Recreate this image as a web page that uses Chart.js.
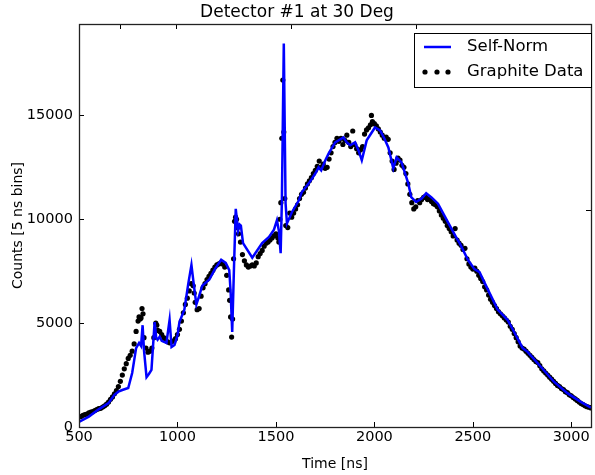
<!DOCTYPE html>
<html>
<head>
<meta charset="utf-8">
<script src="https://cdn.jsdelivr.net/npm/chart.js@4/dist/chart.umd.min.js"></script>
<style>
  html, body { margin: 0; padding: 0; background: #fff; }
  #wrap { width: 595px; height: 475px; }
</style>
</head>
<body>
<div id="wrap"><canvas id="chart" width="595" height="475"></canvas></div>
<script>
// Self-Norm curve (time in ns, counts per 5 ns bin)
const selfNormT = [500, 550, 600, 650, 680, 700, 720, 750, 770, 790, 805, 815, 823, 830, 843, 855, 868, 884, 892, 899,
  910, 920, 944, 960, 970, 985, 1000, 1010, 1035, 1055, 1071, 1085, 1096, 1110, 1126, 1162, 1190, 1222, 1245, 1263,
  1270, 1278, 1288, 1296, 1308, 1316, 1322, 1333, 1380, 1430, 1465, 1490, 1505, 1515, 1524, 1530, 1540, 1549, 1556, 1581,
  1616, 1631, 1667, 1700, 1717, 1730, 1751, 1768, 1801, 1843, 1860, 1877, 1902, 1920, 1936, 1961, 2003, 2029, 2050, 2071,
  2096, 2113, 2138, 2172, 2187, 2212, 2240, 2263, 2290, 2323, 2374, 2414, 2433, 2475, 2508, 2534, 2559, 2626, 2677, 2711,
  2753, 2778, 2845, 2912, 2980, 3046, 3100];
const selfNormC = [250, 500, 850, 1150, 1550, 1700, 1780, 1880, 2600, 3800, 4050, 3900, 4900, 3700, 2400, 2550, 2750, 5050, 4300, 4200,
  4350, 4150, 4050, 5150, 3850, 3950, 4400, 5050, 5650, 6900, 7800, 6700, 5900, 6300, 6800, 7100, 7600, 8050, 7900, 7550,
  6500, 4570, 8000, 10500, 9450, 9750, 9700, 8850, 8150, 8850, 9150, 9500, 9950, 9450, 8370, 10770, 18460, 10770, 9800, 10340,
  10900, 11300, 11730, 12200, 12500, 12350, 12840, 13170, 13700, 13940, 13700, 13560, 13700, 13300, 12840, 13800, 14420, 14280, 13900, 13460,
  12450, 12980, 12740, 11730, 11070, 10830, 11000, 11250, 11050, 10750, 9850, 9150, 8850, 8050, 7600, 7450, 6950, 5650, 5150, 4550,
  3800, 3620, 2900, 2180, 1630, 1220, 930];

// Graphite data points
const graphiteT = [500, 510, 520, 530, 540, 550, 560, 570, 580, 590, 600, 610, 620, 630, 640, 650, 660, 670, 680, 690,
  700, 710, 720, 730, 740, 750, 760, 770, 780, 790, 800, 805, 810, 815, 820, 825, 830, 840, 850, 860,
  870, 880, 890, 895, 900, 910, 920, 930, 940, 950, 960, 970, 980, 990, 1000, 1010, 1020, 1030, 1040, 1050,
  1060, 1070, 1080, 1085, 1090, 1100, 1110, 1120, 1130, 1140, 1150, 1160, 1170, 1180, 1190, 1200, 1210, 1220, 1230, 1240,
  1250, 1260, 1265, 1270, 1275, 1280, 1285, 1290, 1295, 1300, 1305, 1310, 1320, 1330, 1340, 1350, 1360, 1370, 1380, 1390,
  1400, 1410, 1420, 1430, 1440, 1450, 1460, 1470, 1480, 1490, 1500, 1510, 1515, 1520, 1525, 1530, 1535, 1540, 1545, 1550,
  1560, 1570, 1580, 1590, 1600, 1610, 1620, 1630, 1640, 1650, 1660, 1670, 1680, 1690, 1700, 1710, 1720, 1730, 1740, 1750,
  1760, 1770, 1780, 1790, 1800, 1810, 1820, 1830, 1840, 1850, 1860, 1870, 1880, 1890, 1900, 1910, 1920, 1930, 1940, 1950,
  1960, 1970, 1980, 1985, 1990, 2000, 2010, 2020, 2030, 2040, 2050, 2060, 2070, 2080, 2090, 2100, 2110, 2120, 2130, 2140,
  2150, 2160, 2170, 2180, 2190, 2200, 2210, 2220, 2230, 2240, 2250, 2260, 2270, 2280, 2290, 2300, 2310, 2320, 2330, 2340,
  2350, 2360, 2370, 2380, 2390, 2400, 2410, 2420, 2430, 2440, 2450, 2460, 2470, 2480, 2490, 2500, 2510, 2520, 2530, 2540,
  2550, 2560, 2570, 2580, 2590, 2600, 2610, 2620, 2630, 2640, 2650, 2660, 2670, 2680, 2690, 2700, 2710, 2720, 2730, 2740,
  2750, 2760, 2770, 2780, 2790, 2800, 2810, 2820, 2830, 2840, 2850, 2860, 2870, 2880, 2890, 2900, 2910, 2920, 2930, 2940,
  2950, 2960, 2970, 2980, 2990, 3000, 3010, 3020, 3030, 3040, 3050, 3060, 3070, 3080, 3090, 3100];
const graphiteC = [480, 500, 560, 600, 620, 680, 720, 740, 790, 840, 880, 900, 960, 1020, 1100, 1200, 1330, 1450, 1600, 1750,
  1950, 2200, 2500, 2800, 3050, 3300, 3450, 3650, 4000, 4600, 5100, 5300, 5200, 5250, 5700, 5450, 4300, 3800, 3600, 3650,
  3800, 4300, 5000, 4900, 4650, 4600, 4450, 4300, 4200, 4100, 4050, 4100, 4150, 4250, 4450, 4700, 5100, 5500, 5900, 6200,
  6550, 6900, 6800, 6450, 6000, 5650, 5700, 6300, 6700, 6900, 7100, 7250, 7400, 7550, 7700, 7800, 7850, 7900, 7850, 7700,
  7300, 6600, 6100, 5300, 4330, 5200, 8100, 9900, 10100, 10000, 9600, 9300, 8900, 8300, 8000, 7800, 7700, 7750, 7800, 7750,
  7900, 8200, 8350, 8500, 8700, 8850, 8900, 9000, 9100, 9200, 9300, 9100, 8900, 10000, 10800, 13900, 16700, 14200, 11000, 9700,
  9600, 10300, 10100, 10300, 10500, 10700, 11000, 11200, 11300, 11500, 11700, 11850, 12000, 12200, 12350, 12550, 12800, 12500, 12650, 12450,
  12500, 12900, 13200, 13500, 13700, 13900, 13750, 13900, 13600, 13800, 14050, 13700, 13500, 14250, 13600, 13400, 13200, 13350, 13500, 14100,
  14300, 14400, 14550, 15000, 14700, 14600, 14500, 14350, 14200, 14050, 13900, 13950, 13850, 13200, 12800, 12400, 12700, 12950, 12850, 12600,
  12500, 12200, 11700, 11200, 10800, 10500, 10600, 10900, 10800, 10950, 11050, 11100, 10950, 11000, 10850, 10750, 10700, 10600, 10400, 10200,
  10050, 9900, 9700, 9550, 9400, 9200, 9550, 9000, 8850, 8750, 8550, 8600, 8100, 7850, 7700, 7600, 7650, 7500, 7300, 7150,
  7000, 6750, 6600, 6350, 6150, 6000, 5850, 5700, 5550, 5450, 5350, 5250, 5150, 5050, 4850, 4700, 4500, 4300, 4100, 3900,
  3800, 3750, 3650, 3550, 3450, 3350, 3250, 3150, 3100, 2950, 2800, 2700, 2600, 2500, 2400, 2300, 2200, 2100, 2000, 1950,
  1850, 1800, 1700, 1650, 1550, 1500, 1420, 1350, 1280, 1200, 1130, 1080, 1020, 980, 950, 920];

const xTicks = [500, 1000, 1500, 2000, 2500, 3000];
const yTicks = [0, 5000, 10000, 15000];
// unlabelled ticks of the twin axes (top and right)
const topTicks = [707, 995, 1576, 2212];
const rightTicks = [16440, 10430];

const FONT = "'DejaVu Sans', 'Liberation Sans', sans-serif";

// inward tick marks and the full box, like matplotlib
const framePlugin = {
  id: 'frame',
  afterDatasetsDraw(chart) {
    const { ctx, chartArea: a, scales: { x, y } } = chart;
    const len = 5;
    ctx.save();
    ctx.strokeStyle = '#000';
    ctx.lineWidth = 1;
    ctx.beginPath();
    xTicks.forEach(v => {
      const px = Math.round(x.getPixelForValue(v)) + 0.5;
      ctx.moveTo(px, a.bottom); ctx.lineTo(px, a.bottom - len);
    });
    topTicks.forEach(v => {
      const px = Math.round(x.getPixelForValue(v)) + 0.5;
      ctx.moveTo(px, a.top); ctx.lineTo(px, a.top + len);
    });
    yTicks.forEach(v => {
      const py = Math.round(y.getPixelForValue(v)) + 0.5;
      ctx.moveTo(a.left, py); ctx.lineTo(a.left + len, py);
    });
    rightTicks.forEach(v => {
      const py = Math.round(y.getPixelForValue(v)) + 0.5;
      ctx.moveTo(a.right, py); ctx.lineTo(a.right - len, py);
    });
    ctx.stroke();
    ctx.lineWidth = 1.3;
    ctx.strokeStyle = '#222';
    ctx.strokeRect(Math.round(a.left) + 0.5, Math.round(a.top) + 0.5,
      Math.round(a.right - a.left), Math.round(a.bottom - a.top));
    ctx.restore();
  }
};

// legend with a line sample and a three-dot sample
const legendPlugin = {
  id: 'mplLegend',
  afterDraw(chart) {
    const { ctx } = chart;
    const ds = chart.data.datasets;
    ctx.save();
    ctx.fillStyle = '#fff';
    ctx.fillRect(414, 33, 177, 54);
    ctx.strokeStyle = '#000';
    ctx.lineWidth = 1;
    ctx.strokeRect(414.5, 33.5, 177, 54);

    ctx.strokeStyle = ds[0].borderColor;
    ctx.lineWidth = 2.5;
    ctx.beginPath();
    ctx.moveTo(424, 47); ctx.lineTo(451, 47);
    ctx.stroke();

    ctx.fillStyle = ds[1].backgroundColor;
    [425, 437, 448].forEach(cx => {
      ctx.beginPath();
      ctx.arc(cx, 72, 2.6, 0, Math.PI * 2);
      ctx.fill();
    });

    ctx.fillStyle = '#000';
    ctx.font = '16.5px ' + FONT;
    ctx.textBaseline = 'middle';
    ctx.fillText(ds[0].label, 467, 47);
    ctx.fillText(ds[1].label, 467, 72);
    ctx.restore();
  }
};

new Chart(document.getElementById('chart'), {
  type: 'scatter',
  data: {
    datasets: [
      {
        label: 'Self-Norm',
        data: selfNormT.map((t, i) => ({ x: t, y: selfNormC[i] })),
        showLine: true,
        borderColor: '#0000ff',
        borderWidth: 2.5,
        pointRadius: 0,
        tension: 0
      },
      {
        label: 'Graphite Data',
        data: graphiteT.map((t, i) => ({ x: t, y: graphiteC[i] })),
        showLine: false,
        backgroundColor: '#000',
        borderWidth: 0,
        pointRadius: 2.6
      }
    ]
  },
  options: {
    responsive: false,
    animation: false,
    devicePixelRatio: 1,
    layout: { padding: { left: 0, right: 1, top: 0, bottom: 0 } },
    plugins: {
      legend: { display: false },
      tooltip: { enabled: false },
      title: {
        display: true,
        text: 'Detector #1 at 30 Deg',
        color: '#000',
        font: { family: FONT, size: 17, weight: 'normal' },
        padding: { top: 2, bottom: 1.6 }
      }
    },
    scales: {
      x: {
        type: 'linear',
        min: 500,
        max: 3100,
        afterBuildTicks: s => { s.ticks = xTicks.map(v => ({ value: v })); },
        afterFit: s => { s.height = 48; },
        grid: { display: false, drawTicks: false },
        border: { display: false },
        ticks: {
          color: '#000',
          font: { family: FONT, size: 14.5 },
          padding: 2,
          maxRotation: 0,
          callback: v => String(v)
        },
        title: {
          display: true,
          text: 'Time [ns]',
          color: '#000',
          font: { family: FONT, size: 14 },
          padding: { top: 0, bottom: 2 }
        }
      },
      y: {
        type: 'linear',
        min: 0,
        max: 19400,
        afterBuildTicks: s => { s.ticks = yTicks.map(v => ({ value: v })); },
        afterFit: s => { s.width = 79; },
        grid: { display: false, drawTicks: false },
        border: { display: false },
        ticks: {
          color: '#000',
          font: { family: FONT, size: 14.5 },
          padding: 6,
          callback: v => String(v)
        },
        title: {
          display: true,
          text: 'Counts [5 ns bins]',
          color: '#000',
          font: { family: FONT, size: 14 },
          padding: { top: 10, bottom: 0 }
        }
      }
    }
  },
  plugins: [framePlugin, legendPlugin]
});
</script>
</body>
</html>
